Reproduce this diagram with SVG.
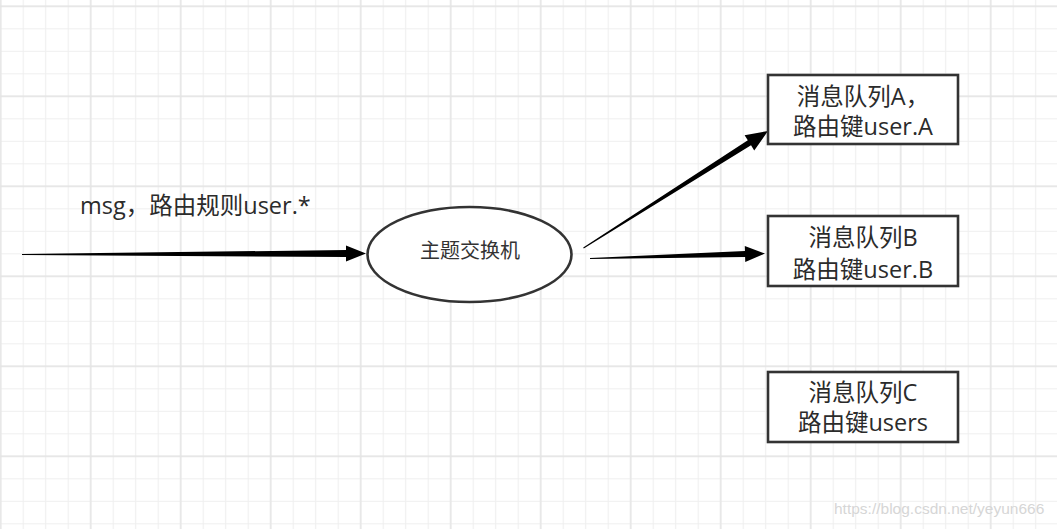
<svg xmlns="http://www.w3.org/2000/svg" width="1057" height="529" viewBox="0 0 1057 529">
<defs>
<style>
.big{font-family:"Open Sans","Noto Sans CJK SC",sans-serif;font-size:23.5px;fill:#2b2b2b}
.node{fill:#fff;stroke:#333;stroke-width:2.6}
.arrow{fill:#000;stroke:none}
</style>
<pattern id="minor" patternUnits="userSpaceOnUse" x="-10.55" y="-4.95" width="22.5" height="22.5">
<path d="M11.25 0V22.5M0 11.25H22.5" stroke="#efefef" stroke-width="1.2" fill="none"/>
</pattern>
<pattern id="major" patternUnits="userSpaceOnUse" x="-44.3" y="-38.7" width="90" height="90">
<path d="M45 0V90M0 45H90" stroke="#e4e4e4" stroke-width="1.3" fill="none"/>
</pattern>
</defs>
<rect width="1057" height="529" fill="#fff"/>
<rect width="1057" height="529" fill="url(#minor)"/>
<rect width="1057" height="529" fill="url(#major)"/>

<g id="edge-labels">
<text class="big" x="80" y="213.5">msg，路由规则user.*</text>
</g>

<g id="connectors">
<polygon class="arrow" points="22,255 346,257 346,261.5 366,253.5 346,245.5 346,250 22,254"/>
<polygon class="arrow" points="583.77,248.42 751.03,145.31 754.24,150.38 768,131 744.6,135.18 747.81,140.25 583.23,247.58"/>
<polygon class="arrow" points="590.01,259 745.1,257.07 745.24,262.07 765,253.5 744.78,246.07 744.92,251.07 589.99,258"/>
</g>

<g id="exchange">
<ellipse class="node" cx="469.5" cy="254.5" rx="102" ry="47.5"/>
<text x="470" y="258" text-anchor="middle" style="font-family:'Noto Sans CJK SC',sans-serif;font-size:20px;fill:#333">主题交换机</text>
</g>

<g id="queueA">
<rect class="node" x="768" y="75" width="190" height="69"/>
<text class="big" x="863" y="105" text-anchor="middle">消息队列A，</text>
<text class="big" x="863" y="135" text-anchor="middle">路由键user.A</text>
</g>

<g id="queueB">
<rect class="node" x="768" y="216" width="190" height="70"/>
<text class="big" x="863" y="245.5" text-anchor="middle">消息队列B</text>
<text class="big" x="863" y="277.5" text-anchor="middle">路由键user.B</text>
</g>

<g id="queueC">
<rect class="node" x="768" y="372" width="190" height="70"/>
<text class="big" x="863" y="400.5" text-anchor="middle">消息队列C</text>
<text class="big" x="863" y="430.5" text-anchor="middle">路由键users</text>
</g>

<g id="watermark">
<text x="834" y="514" style="font-family:'Liberation Sans',sans-serif;font-size:15.5px;fill:#d6d6d6">https://blog.csdn.net/yeyun666</text>
</g>
</svg>
